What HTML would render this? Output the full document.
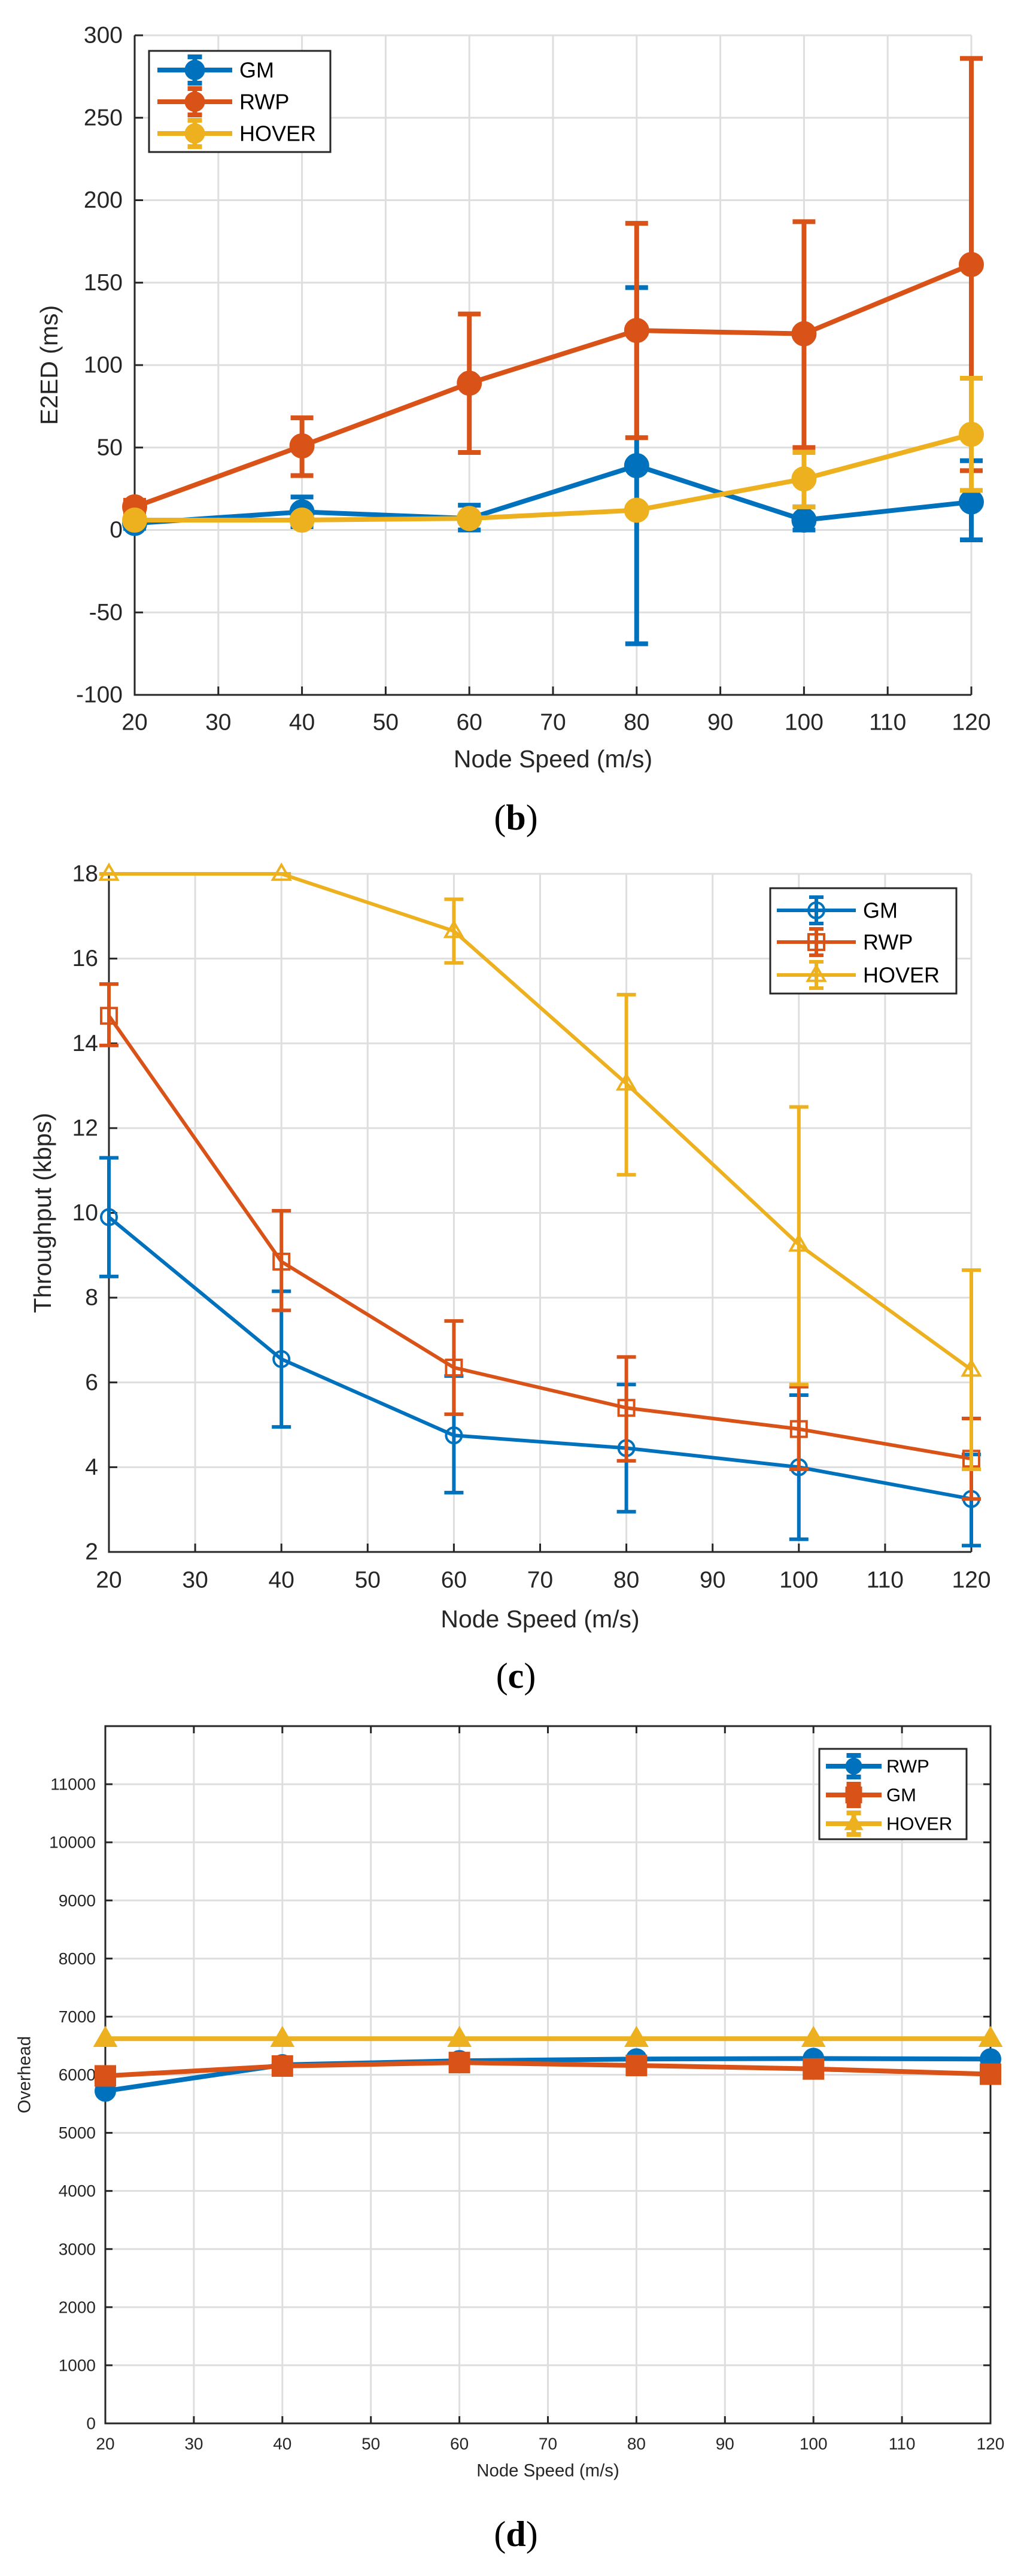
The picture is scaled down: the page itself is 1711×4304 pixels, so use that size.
<!DOCTYPE html>
<html><head><meta charset="utf-8">
<style>
html,body{margin:0;padding:0;background:#fff;}
svg{display:block;font-family:"Liberation Sans",Arial,sans-serif;}
</style></head>
<body>
<svg id="fig" width="1711" height="4304" viewBox="0 0 1711 4304" xmlns="http://www.w3.org/2000/svg">
<rect width="1711" height="4304" fill="#fff"/>
<text x="862" y="1366" font-family="Liberation Serif,serif" font-size="60" text-anchor="middle" dominant-baseline="central">(<tspan font-weight="bold">b</tspan>)</text>
<text x="862" y="2800" font-family="Liberation Serif,serif" font-size="60" text-anchor="middle" dominant-baseline="central">(<tspan font-weight="bold">c</tspan>)</text>
<text x="862" y="4234" font-family="Liberation Serif,serif" font-size="60" text-anchor="middle" dominant-baseline="central">(<tspan font-weight="bold">d</tspan>)</text>
</svg>
<script>
// ---- data arrays ----
const speeds = [20, 40, 60, 80, 100, 120];
const xTicks = [20, 30, 40, 50, 60, 70, 80, 90, 100, 110, 120];

// chart (b) E2ED
const bTicksY = [-100, -50, 0, 50, 100, 150, 200, 250, 300];
const bGM = [4, 11, 7, 39, 6, 17];
const bGMHi = [8, 20, 15, 147, 14, 42];
const bGMLo = [1, 2, 0, -69, 0, -6];
const bRWP = [14, 51, 89, 121, 119, 161];
const bRWPHi = [18, 68, 131, 186, 187, 286];
const bRWPLo = [10, 33, 47, 56, 50, 36];
const bHOVER = [6, 6, 7, 12, 31, 58];
const bHOVERHi = [8, 8, 9, 14, 47, 92];
const bHOVERLo = [4, 4, 5, 10, 14, 24];

// chart (c) Throughput
const cTicksY = [2, 4, 6, 8, 10, 12, 14, 16, 18];
const cGM = [9.9, 6.55, 4.75, 4.45, 4.0, 3.25];
const cGMHi = [11.3, 8.15, 6.15, 5.95, 5.7, 4.3];
const cGMLo = [8.5, 4.95, 3.4, 2.95, 2.3, 2.15];
const cRWP = [14.65, 8.85, 6.35, 5.4, 4.9, 4.2];
const cRWPHi = [15.4, 10.05, 7.45, 6.6, 5.9, 5.15];
const cRWPLo = [13.95, 7.7, 5.25, 4.15, 3.95, 3.25];
const cHOVER = [18, 18, 16.65, 13.05, 9.25, 6.3];
const cHOVERHi = [18, 18, 17.4, 15.15, 12.5, 8.65];
const cHOVERLo = [18, 18, 15.9, 10.9, 5.95, 3.95];

// chart (d) Overhead
const dTicksY = [0, 1000, 2000, 3000, 4000, 5000, 6000, 7000, 8000, 9000, 10000, 11000];
const dRWP = [5720, 6170, 6240, 6270, 6280, 6270];
const dGM = [5980, 6150, 6210, 6160, 6100, 6010];
const dHOVER = [6620, 6620, 6620, 6620, 6620, 6620];

const BLUE = '#0072BD', ORANGE = '#D95319', YELLOW = '#EDB120';
const NS = 'http://www.w3.org/2000/svg';
const svg = document.getElementById('fig');

function mk(tag, attrs, parent) {
  const e = document.createElementNS(NS, tag);
  for (const k in attrs) e.setAttribute(k, attrs[k]);
  (parent || svg).appendChild(e);
  return e;
}

function marker(g, shape, cx, cy, r, color, filled, sw) {
  let m;
  if (shape === 'circle') {
    m = mk('circle', {cx: cx, cy: cy, r: r}, g);
  } else if (shape === 'square') {
    m = mk('rect', {x: cx - r, y: cy - r, width: 2 * r, height: 2 * r}, g);
  } else {
    const p = [[cx, cy - r * 1.15], [cx - r * 1.1, cy + r * 0.75], [cx + r * 1.1, cy + r * 0.75]];
    m = mk('polygon', {points: p.map(a => a.join(',')).join(' ')}, g);
  }
  m.setAttribute('fill', filled ? color : 'none');
  m.setAttribute('stroke', color);
  m.setAttribute('stroke-width', sw);
  return m;
}

function chart(cfg) {
  const g = mk('g', {});
  
  
  const X = v => cfg.L + (v - cfg.xmin) / (cfg.xmax - cfg.xmin) * (cfg.R - cfg.L);
  const Y = v => cfg.B - (v - cfg.ymin) / (cfg.ymax - cfg.ymin) * (cfg.B - cfg.T);
  // grid
  xTicks.forEach(t => {
    const l = mk('line', {x1: X(t), x2: X(t), y1: cfg.T, y2: cfg.B, stroke: '#dedede', 'stroke-width': 3}, g);
    
    
  });
  cfg.yTicks.forEach(t => {
    const l = mk('line', {x1: cfg.L, x2: cfg.R, y1: Y(t), y2: Y(t), stroke: '#dedede', 'stroke-width': 3}, g);
    
    
  });
  if (!cfg.box) {
    mk('line', {x1: cfg.L, x2: cfg.R, y1: cfg.T, y2: cfg.T, stroke: '#dedede', 'stroke-width': 3}, g);
    mk('line', {x1: cfg.R, x2: cfg.R, y1: cfg.T, y2: cfg.B, stroke: '#dedede', 'stroke-width': 3}, g);
  }
  // axes
  const ax = mk('path', {d: cfg.box ? `M${cfg.L},${cfg.T}H${cfg.R}V${cfg.B}H${cfg.L}Z` : `M${cfg.L},${cfg.T}V${cfg.B}H${cfg.R}`, fill: 'none', stroke: '#262626', 'stroke-width': 3}, g);
  
  
  const tl = cfg.tickLen;
  xTicks.forEach(t => {
    mk('line', {x1: X(t), x2: X(t), y1: cfg.B, y2: cfg.B - tl, stroke: '#262626', 'stroke-width': 3}, g);
    if (cfg.box) mk('line', {x1: X(t), x2: X(t), y1: cfg.T, y2: cfg.T + tl, stroke: '#262626', 'stroke-width': 3}, g);
    const tx = mk('text', {x: X(t), y: cfg.xLabY, 'font-size': cfg.fs, 'text-anchor': 'middle', 'dominant-baseline': 'central', fill: '#262626'}, g);
    tx.textContent = t;
    
    
  });
  cfg.yTicks.forEach(t => {
    mk('line', {x1: cfg.L, x2: cfg.L + tl, y1: Y(t), y2: Y(t), stroke: '#262626', 'stroke-width': 3}, g);
    if (cfg.box) mk('line', {x1: cfg.R, x2: cfg.R - tl, y1: Y(t), y2: Y(t), stroke: '#262626', 'stroke-width': 3}, g);
    const tx = mk('text', {x: cfg.L - cfg.yLabGap, y: Y(t), 'font-size': cfg.fs, 'text-anchor': 'end', 'dominant-baseline': 'central', fill: '#262626'}, g);
    tx.textContent = t;
    
    
  });
  const xt = mk('text', {x: (cfg.L + cfg.R) / 2, y: cfg.xTitleY, 'font-size': cfg.fs * 1.05, 'text-anchor': 'middle', 'dominant-baseline': 'central', fill: '#262626'}, g);
  xt.textContent = 'Node Speed (m/s)';
  
  
  const yc = (cfg.T + cfg.B) / 2;
  const yt = mk('text', {x: cfg.yTitleX, y: yc, 'font-size': cfg.fs * 1.05, 'text-anchor': 'middle', 'dominant-baseline': 'central', fill: '#262626', transform: `rotate(-90 ${cfg.yTitleX} ${yc})`}, g);
  yt.textContent = cfg.yTitle;
  
  
  // series
  cfg.series.forEach(s => {
    const sg = mk('g', {}, g);
    
    
    if (s.hi) {
      speeds.forEach((sp, i) => {
        const x = X(sp);
        const eb = mk('path', {d: `M${x},${Y(s.hi[i])}V${Y(s.lo[i])}M${x - cfg.cap},${Y(s.hi[i])}H${x + cfg.cap}M${x - cfg.cap},${Y(s.lo[i])}H${x + cfg.cap}`, stroke: s.color, 'stroke-width': cfg.lw, fill: 'none'}, sg);
        
        
      });
    }
    const ln = mk('polyline', {points: speeds.map((sp, i) => X(sp) + ',' + Y(s.v[i])).join(' '), fill: 'none', stroke: s.color, 'stroke-width': cfg.lw, 'stroke-linejoin': 'round'}, sg);
    
    
    speeds.forEach((sp, i) => {
      const m = marker(sg, s.shape, X(sp), Y(s.v[i]), cfg.mr, s.color, cfg.filled, cfg.msw);
      
      
    });
  });
  // legend
  const lg = mk('g', {}, g);
  
  
  const Lg = cfg.legend;
  mk('rect', {x: Lg.x, y: Lg.y, width: Lg.w, height: Lg.h, fill: '#fff', stroke: '#262626', 'stroke-width': 3}, lg);
  cfg.series.forEach((s, i) => {
    const eg = mk('g', {}, lg);
    
    
    const ry = Lg.rows[i];
    const mx = (Lg.lx1 + Lg.lx2) / 2;
    mk('path', {d: `M${mx},${ry - Lg.eb}V${ry + Lg.eb}M${mx - 12},${ry - Lg.eb}H${mx + 12}M${mx - 12},${ry + Lg.eb}H${mx + 12}`, stroke: s.color, 'stroke-width': cfg.lw}, eg);
    mk('line', {x1: Lg.lx1, x2: Lg.lx2, y1: ry, y2: ry, stroke: s.color, 'stroke-width': cfg.lw}, eg);
    marker(eg, s.shape, mx, ry, Lg.mr, s.color, cfg.filled, cfg.msw);
    const t = mk('text', {x: Lg.tx, y: ry, 'font-size': Lg.fs, 'dominant-baseline': 'central', fill: '#000'}, eg);
    t.textContent = s.label;
  });
}

chart({
  name: 'chart-e2ed', L: 225, R: 1623, T: 59, B: 1161, xmin: 20, xmax: 120, ymin: -100, ymax: 300,
  yTicks: bTicksY, fs: 39, tickLen: 14, xLabY: 1207, yLabGap: 20, xTitleY: 1268, yTitleX: 82, yTitle: 'E2ED (ms)',
  box: false, lw: 8, cap: 19, mr: 20, filled: true, msw: 2,
  series: [
    {label: 'GM', color: BLUE, shape: 'circle', v: bGM, hi: bGMHi, lo: bGMLo},
    {label: 'RWP', color: ORANGE, shape: 'circle', v: bRWP, hi: bRWPHi, lo: bRWPLo},
    {label: 'HOVER', color: YELLOW, shape: 'circle', v: bHOVER, hi: bHOVERHi, lo: bHOVERLo}
  ],
  legend: {x: 249, y: 85, w: 303, h: 169, rows: [117, 170, 223], lx1: 263, lx2: 388, tx: 400, fs: 36, mr: 16, eb: 22}
});

chart({
  name: 'chart-throughput', L: 182, R: 1623, T: 1460, B: 2593, xmin: 20, xmax: 120, ymin: 2, ymax: 18,
  yTicks: cTicksY, fs: 39, tickLen: 14, xLabY: 2640, yLabGap: 18, xTitleY: 2705, yTitleX: 71, yTitle: 'Throughput (kbps)',
  box: false, lw: 6, cap: 16, mr: 13, filled: false, msw: 4,
  series: [
    {label: 'GM', color: BLUE, shape: 'circle', v: cGM, hi: cGMHi, lo: cGMLo},
    {label: 'RWP', color: ORANGE, shape: 'square', v: cRWP, hi: cRWPHi, lo: cRWPLo},
    {label: 'HOVER', color: YELLOW, shape: 'triangle', v: cHOVER, hi: cHOVERHi, lo: cHOVERLo}
  ],
  legend: {x: 1287, y: 1484, w: 311, h: 176, rows: [1521, 1574, 1629], lx1: 1298, lx2: 1430, tx: 1442, fs: 36, mr: 13, eb: 22}
});

chart({
  name: 'chart-overhead', L: 176, R: 1655, T: 2884, B: 4049, xmin: 20, xmax: 120, ymin: 0, ymax: 12000,
  yTicks: dTicksY, fs: 28, tickLen: 12, xLabY: 4083, yLabGap: 16, xTitleY: 4128, yTitleX: 41, yTitle: 'Overhead',
  box: true, lw: 8, cap: 10, mr: 17, filled: true, msw: 2,
  series: [
    {label: 'RWP', color: BLUE, shape: 'circle', v: dRWP},
    {label: 'GM', color: ORANGE, shape: 'square', v: dGM},
    {label: 'HOVER', color: YELLOW, shape: 'triangle', v: dHOVER}
  ],
  legend: {x: 1369, y: 2922, w: 246, h: 151, rows: [2951, 2999, 3047], lx1: 1380, lx2: 1473, tx: 1481, fs: 31, mr: 13, eb: 18}
});
</script>
</body></html>
